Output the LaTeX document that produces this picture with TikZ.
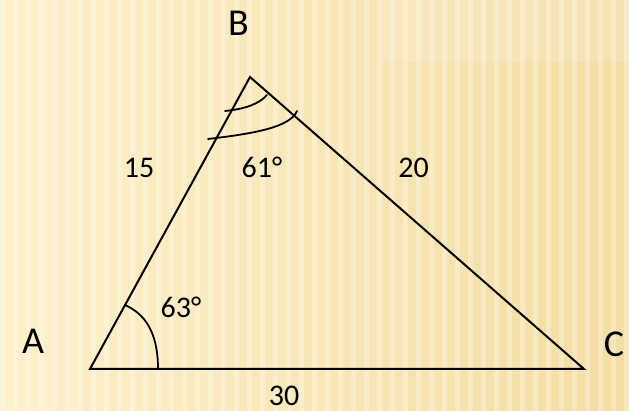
\documentclass[tikz,border=0pt]{standalone}
\usepackage{fontspec}
\setmainfont{Carlito}
\usepackage{xcolor}
\usepackage{tikz}
\usetikzlibrary{positioning, calc}

\definecolor{paperL}{RGB}{253,241,201}
\definecolor{paperR}{RGB}{243,221,162}

\begin{document}
\begin{tikzpicture}[
    x=1pt, y=-1pt,
    side/.style={line width=2pt, line cap=round, line join=miter},
    anglearc/.style={line width=1.8pt, line cap=round},
    vlbl/.style={font=\fontsize{38}{40}\selectfont, inner sep=0pt},
    nlbl/.style={font=\fontsize{30}{32}\selectfont, inner sep=0pt},
]
%% Background
\useasboundingbox (0,0) rectangle (629,411);
\shade[left color=paperL, right color=paperR] (0,0) rectangle (629,411);
\fill[white, opacity=.14] (380,0) rectangle (629,62);
\foreach \i in {0,13,...,628}
    \fill[white, opacity=.3] (\i,0) rectangle (\i+5,411);

%% Vertices
\coordinate (A) at (90,369);
\coordinate (B) at (250,77);
\coordinate (C) at (584,369);

\node[vlbl] (lA) at (33,341.5) {A};
\node[vlbl] (lB) at (238.5,23.5) {B};
\node[vlbl] (lC) at (614,344) {C};

%% Triangle
\draw[side] (A) -- (B) -- (C) -- cycle;

%% Angle marks
\draw[anglearc] (125,305) .. controls (150,316) and (158,340) .. (158,369);
\draw[anglearc] (225,111) .. controls (245,109) and (259,104) .. (267,95);
\draw[anglearc] (208,139) .. controls (250,134) and (290,128) .. (297,111);

%% Measures
\node[nlbl] (s15) at (139,167.5) {15};
\node[nlbl] (s20) at (413.5,167.5) {20};
\node[nlbl] (s30) at (284,396) {30};
\node[nlbl] (aB)  at (262,167.5) {61°};
\node[nlbl] (aA)  at (181,307.5) {63°};
\end{tikzpicture}
\end{document}
